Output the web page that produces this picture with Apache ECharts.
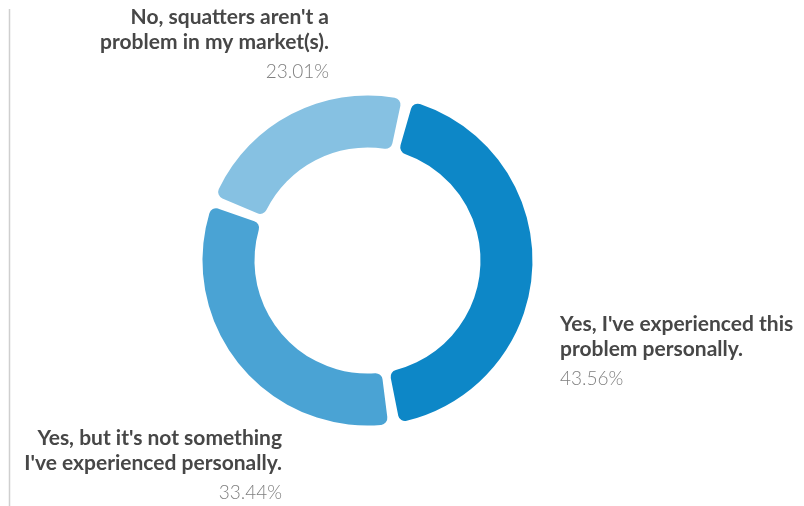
<!DOCTYPE html>
<html>
<head>
<meta charset="utf-8">
<style>
  html, body { margin: 0; padding: 0; background: #ffffff; }
  #chart { width: 804px; height: 506px; }
</style>
<script src="https://cdn.jsdelivr.net/npm/echarts@6/dist/echarts.min.js"></script>
</head>
<body>
<div id="chart"></div>
<script>
// Survey answers (label lines) and their share of responses, in percent
const answers = [
  "Yes, I've experienced this\nproblem personally.",
  "Yes, but it's not something\nI've experienced personally.",
  "No, squatters aren't a\nproblem in my market(s)."
];
const shares = [43.56, 33.44, 23.01];
const colors = ['#0d87c7', '#4aa3d4', '#86c1e2'];

// Where each answer's caption sits, and which side it is aligned to
const captionSpots = [
  { x: 560, y: 312, align: 'left' },
  { x: 282, y: 426, align: 'right' },
  { x: 329, y: 5, align: 'right' }
];

const chart = echarts.init(document.getElementById('chart'), null, { renderer: 'canvas' });

chart.setOption({
  animation: false,
  backgroundColor: '#ffffff',
  graphic: [{
    type: 'line',
    shape: { x1: 9.5, y1: 9, x2: 9.5, y2: 506 },
    style: { stroke: '#cfcfcf', lineWidth: 1.5 }
  }],
  series: [{
    type: 'pie',
    center: [367.5, 260.5],
    radius: [113, 165],
    startAngle: 76,
    clockwise: true,
    padAngle: 4,
    itemStyle: { borderRadius: 7 },
    label: {
      show: true,
      position: 'outside',
      overflow: 'none',
      fontFamily: 'Lato',
      formatter: p => '{name|' + p.name.split('\n').join('}\n{name|') + '}\n{pct|' + p.value.toFixed(2) + '%}',
      rich: {
        name: { fontFamily: 'Lato', fontWeight: 'bold', fontSize: 21, lineHeight: 25, color: '#474747' },
        pct: { fontFamily: 'Lato', fontWeight: 300, fontSize: 19, lineHeight: 33, color: '#7f7f7f' }
      }
    },
    labelLine: { show: false },
    labelLayout: p => {
      const s = captionSpots[p.dataIndex];
      return { x: s.x, y: s.y, align: s.align, verticalAlign: 'top', hideOverlap: false };
    },
    emphasis: { disabled: true },
    data: answers.map((name, i) => ({
      name: name,
      value: shares[i],
      itemStyle: { color: colors[i] }
    }))
  }]
});
</script>
</body>
</html>
